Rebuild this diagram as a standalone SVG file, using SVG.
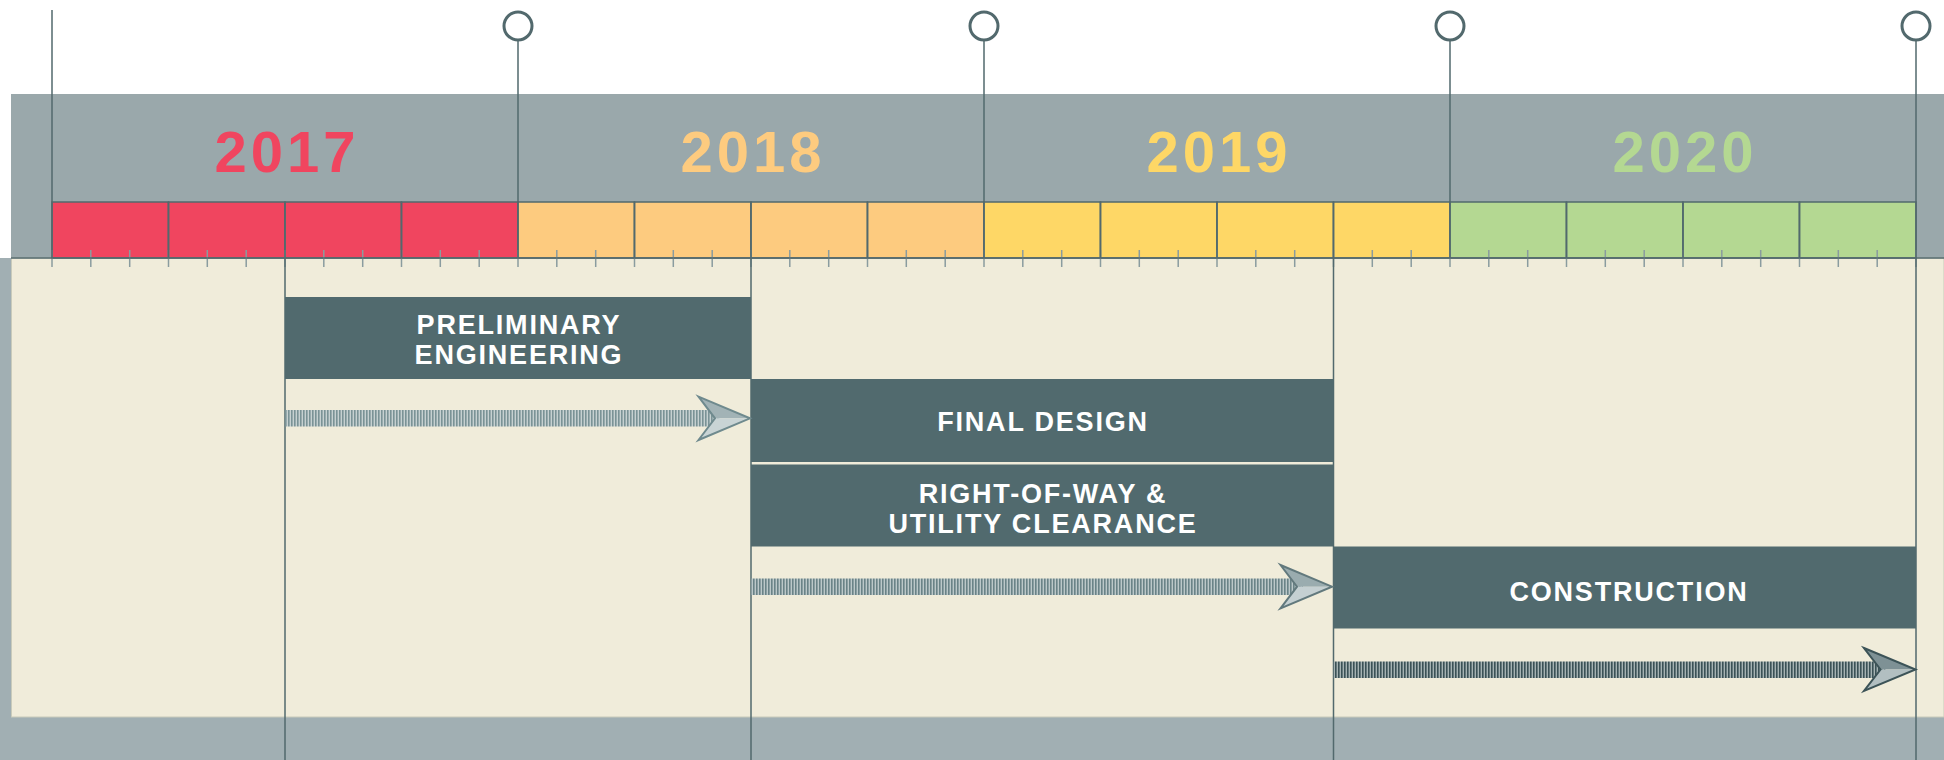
<svg xmlns="http://www.w3.org/2000/svg" width="1944" height="760" viewBox="0 0 1944 760">
<defs>
<style>
.year{font-family:"Liberation Sans",Arial,sans-serif;font-weight:bold;font-size:58px;letter-spacing:4px;text-anchor:middle}
.lbl{font-family:"Liberation Sans",Arial,sans-serif;font-weight:bold;font-size:27px;letter-spacing:1.8px;fill:#ffffff;text-anchor:middle}
.box{fill:#516a6e}
.grid{stroke:#52696d;stroke-width:1.5;fill:none}
.cell{stroke:#52696d;stroke-width:1.5}
.pin{fill:#ffffff;stroke:#52696d;stroke-width:3}
.tick{stroke:#8a9c9f;stroke-width:1.5;fill:none}
</style>
<pattern id="stripeA" patternUnits="userSpaceOnUse" width="3" height="20"><rect width="3" height="20" fill="#c6d1d1"/><rect width="1.6" height="20" fill="#7a9396"/></pattern>
<pattern id="stripeB" patternUnits="userSpaceOnUse" width="3" height="20"><rect width="3" height="20" fill="#bcc8c9"/><rect width="1.6" height="20" fill="#6a8387"/></pattern>
<pattern id="stripeC" patternUnits="userSpaceOnUse" width="3" height="20"><rect width="3" height="20" fill="#a6b3b3"/><rect width="1.6" height="20" fill="#3b5256"/></pattern>
</defs>

<!-- background -->
<rect x="0" y="0" width="1944" height="760" fill="#ffffff"/>
<rect x="11" y="94" width="1933" height="164" fill="#9aa8ab"/>
<rect x="0" y="258" width="1944" height="502" fill="#a1afb3"/>
<rect x="11.5" y="258" width="1932.5" height="459" fill="#f0ecda" stroke="#c9cbbb" stroke-width="1"/>

<!-- year headers -->
<g id="year-2017">
<rect class="cell" x="52" y="202" width="116.5" height="56" fill="#f0455f"/>
<rect class="cell" x="168.5" y="202" width="116.5" height="56" fill="#f0455f"/>
<rect class="cell" x="285" y="202" width="116.5" height="56" fill="#f0455f"/>
<rect class="cell" x="401.5" y="202" width="116.5" height="56" fill="#f0455f"/>
<text class="year" x="287" y="172" fill="#f0455f">2017</text>
</g>
<g id="year-2018">
<rect class="cell" x="518" y="202" width="116.5" height="56" fill="#fdcb7f"/>
<rect class="cell" x="634.5" y="202" width="116.5" height="56" fill="#fdcb7f"/>
<rect class="cell" x="751" y="202" width="116.5" height="56" fill="#fdcb7f"/>
<rect class="cell" x="867.5" y="202" width="116.5" height="56" fill="#fdcb7f"/>
<text class="year" x="753" y="172" fill="#fdcb7f">2018</text>
</g>
<g id="year-2019">
<rect class="cell" x="984" y="202" width="116.5" height="56" fill="#fed766"/>
<rect class="cell" x="1100.5" y="202" width="116.5" height="56" fill="#fed766"/>
<rect class="cell" x="1217" y="202" width="116.5" height="56" fill="#fed766"/>
<rect class="cell" x="1333.5" y="202" width="116.5" height="56" fill="#fed766"/>
<text class="year" x="1219" y="172" fill="#fed766">2019</text>
</g>
<g id="year-2020">
<rect class="cell" x="1450" y="202" width="116.5" height="56" fill="#b4d892"/>
<rect class="cell" x="1566.5" y="202" width="116.5" height="56" fill="#b4d892"/>
<rect class="cell" x="1683" y="202" width="116.5" height="56" fill="#b4d892"/>
<rect class="cell" x="1799.5" y="202" width="116.5" height="56" fill="#b4d892"/>
<text class="year" x="1685" y="172" fill="#b4d892">2020</text>
</g>

<!-- month ticks -->
<path class="tick" d="M52 250V267M90.8 250V267M129.7 250V267M168.5 250V267M207.3 250V267M246.2 250V267M285 250V267M323.8 250V267M362.7 250V267M401.5 250V267M440.3 250V267M479.2 250V267M518 250V267M556.8 250V267M595.7 250V267M634.5 250V267M673.3 250V267M712.2 250V267M751 250V267M789.8 250V267M828.7 250V267M867.5 250V267M906.3 250V267M945.2 250V267M984 250V267M1022.8 250V267M1061.7 250V267M1100.5 250V267M1139.3 250V267M1178.2 250V267M1217 250V267M1255.8 250V267M1294.7 250V267M1333.5 250V267M1372.3 250V267M1411.2 250V267M1450 250V267M1488.8 250V267M1527.7 250V267M1566.5 250V267M1605.3 250V267M1644.2 250V267M1683 250V267M1721.8 250V267M1760.7 250V267M1799.5 250V267M1838.3 250V267M1877.2 250V267M1916 250V267"/>

<!-- grid lines -->
<g id="grid">
<path class="grid" d="M11 258H1944"/>
<path class="grid" d="M52 10V258"/>
<path class="grid" d="M518 40V258M984 40V258M1450 40V258"/>
<path class="grid" d="M285 202V760M751 202V760M1333.5 202V760"/>
<path class="grid" d="M1916 40V760" stroke="#62787b"/>
<path class="grid" d="M168.5 202V258M401.5 202V258M634.5 202V258M867.5 202V258M1100.5 202V258M1217 202V258M1566.5 202V258M1683 202V258M1799.5 202V258"/>
</g>

<!-- milestone pins -->
<g id="pins">
<circle class="pin" cx="518" cy="26" r="14"/>
<circle class="pin" cx="984" cy="26" r="14"/>
<circle class="pin" cx="1450" cy="26" r="14"/>
<circle class="pin" cx="1916" cy="26" r="14"/>
</g>

<!-- phases -->
<g id="preliminary-engineering">
<rect class="box" x="285" y="297" width="466" height="82"/>
<text class="lbl" x="519" y="334">PRELIMINARY</text>
<text class="lbl" x="519" y="363.5">ENGINEERING</text>
</g>
<g id="final-design">
<rect class="box" x="751" y="379" width="582.5" height="83"/>
<text class="lbl" x="1043" y="430.5">FINAL DESIGN</text>
</g>
<g id="right-of-way">
<rect class="box" x="751" y="464.5" width="582.5" height="82"/>
<text class="lbl" x="1043" y="503">RIGHT-OF-WAY &amp;</text>
<text class="lbl" x="1043" y="532.5">UTILITY CLEARANCE</text>
</g>
<g id="construction">
<rect class="box" x="1333.5" y="546.5" width="582.5" height="82"/>
<text class="lbl" x="1629" y="600.5">CONSTRUCTION</text>
</g>

<!-- connectors -->
<g id="connectors">
<g id="arrow-1">
<rect x="285" y="410" width="435" height="16.5" fill="url(#stripeA)"/>
<path d="M698.5 396.7L750 418.3L715 418.3Z" fill="#a2b3b6"/>
<path d="M698.5 440L750 418.3L715 418.3Z" fill="#c9d4d5"/>
<path d="M698.5 396.7L750 418.3L698.5 440L715 418.3Z" fill="none" stroke="#6f8a8e" stroke-width="2" stroke-linejoin="miter"/>
</g>
<g id="arrow-2">
<rect x="751" y="578.5" width="552" height="16.5" fill="url(#stripeB)"/>
<path d="M1280.5 565L1332 586.7L1297 586.7Z" fill="#9aacaf"/>
<path d="M1280.5 608.4L1332 586.7L1297 586.7Z" fill="#c5d0d2"/>
<path d="M1280.5 565L1332 586.7L1280.5 608.4L1297 586.7Z" fill="none" stroke="#62797d" stroke-width="2"/>
</g>
<g id="arrow-3">
<rect x="1333.5" y="661.5" width="552" height="16.5" fill="url(#stripeC)"/>
<path d="M1864 648L1915.5 669.5L1880.5 669.5Z" fill="#7e9195"/>
<path d="M1864 691L1915.5 669.5L1880.5 669.5Z" fill="#b2bfc1"/>
<path d="M1864 648L1915.5 669.5L1864 691L1880.5 669.5Z" fill="none" stroke="#3c5357" stroke-width="2"/>
</g>
</g>
</svg>
